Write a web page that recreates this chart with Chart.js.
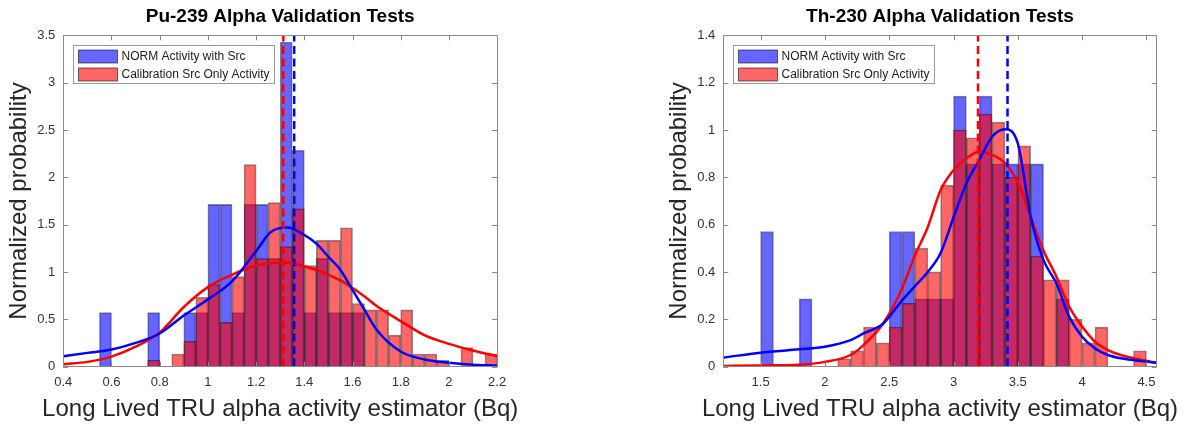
<!DOCTYPE html>
<html>
<head>
<meta charset="utf-8">
<script src="https://cdn.jsdelivr.net/npm/chart.js@4.4.1/dist/chart.umd.min.js"></script>
<style>
  html, body { margin: 0; padding: 0; background: #fff; overflow: hidden; }
  canvas { position: absolute; top: 0; }
  #chart-pu { left: 0; }
  #chart-th { left: 660px; }
</style>
</head>
<body>
<canvas id="chart-pu" width="593" height="425"></canvas>
<canvas id="chart-th" width="527" height="425"></canvas>
<script>
var FONT = "'Liberation Sans', Arial, Helvetica, sans-serif";

var xTitle = "Long Lived TRU alpha activity estimator (Bq)";
var yTitle = "Normalized probability";
var seriesNames = ["NORM Activity with Src", "Calibration Src Only Activity"];

// ---- Pu-239 ----
var puTitle = "Pu-239 Alpha Validation Tests";
var puBins = [0.575, 0.625, 0.675, 0.725, 0.775, 0.825, 0.875, 0.925, 0.975, 1.025, 1.075,
  1.125, 1.175, 1.225, 1.275, 1.325, 1.375, 1.425, 1.475, 1.525, 1.575, 1.625,
  1.675, 1.725, 1.775, 1.825, 1.875, 1.925, 1.975, 2.025, 2.075, 2.125, 2.175];
var puNorm = [0.571, 0, 0, 0, 0.571, 0, 0, 0.571, 0.571, 1.714, 1.714,
  0.571, 1.714, 1.714, 1.143, 3.429, 2.286, 0.571, 1.143, 0.571, 0.571, 0.571,
  0, 0, 0, 0, 0, 0, 0, 0, 0, 0, 0];
var puCal = [0, 0, 0, 0, 0.067, 0, 0.133, 0.267, 0.733, 0.867, 0.467,
  0.95, 2.133, 1.14, 1.733, 1.267, 1.667, 1.067, 1.333, 1.333, 1.467, 0.667,
  0.6, 0.6, 0.333, 0.6, 0.133, 0.133, 0.067, 0, 0.2, 0, 0.133];
var puFitX = [0.4, 0.5, 0.6, 0.7, 0.8, 0.9, 1.0, 1.1, 1.2, 1.26, 1.33, 1.4, 1.45, 1.5,
  1.55, 1.6, 1.65, 1.7, 1.8, 1.9, 2.0, 2.1, 2.2];
var puFitNorm = [0.11, 0.145, 0.18, 0.25, 0.35, 0.54, 0.71, 0.9, 1.22, 1.42, 1.47, 1.39, 1.30, 1.16,
  1.02, 0.81, 0.6, 0.39, 0.16, 0.075, 0.04, 0.02, 0.01];
var puFitCal = [0.025, 0.05, 0.105, 0.21, 0.36, 0.63, 0.84, 0.97, 1.07, 1.09, 1.10, 1.06, 1.02, 0.97,
  0.91, 0.83, 0.74, 0.64, 0.48, 0.33, 0.24, 0.17, 0.11];
var puMeans = [1.358, 1.313];
var puXTicks = [0.4, 0.6, 0.8, 1, 1.2, 1.4, 1.6, 1.8, 2, 2.2];
var puYTicks = [0, 0.5, 1, 1.5, 2, 2.5, 3, 3.5];
var puXRange = [0.4, 2.2];

// ---- Th-230 ----
var thTitle = "Th-230 Alpha Validation Tests";
var thBins = [1.55, 1.65, 1.75, 1.85, 1.95, 2.05, 2.15, 2.25, 2.35, 2.45, 2.55, 2.65, 2.75, 2.85,
  2.95, 3.05, 3.15, 3.25, 3.35, 3.45, 3.55, 3.65, 3.75, 3.85, 3.95, 4.05, 4.15, 4.25, 4.35, 4.45];
var thNorm = [0.571, 0, 0, 0.286, 0, 0, 0, 0, 0, 0, 0.571, 0.571, 0.286, 0.286,
  0.286, 1.143, 0.857, 1.143, 0.857, 0.857, 0.857, 0.857, 0, 0.286, 0, 0, 0, 0, 0, 0];
var thCal = [0, 0, 0, 0, 0, 0, 0.033, 0.067, 0.167, 0.1, 0.167, 0.267, 0.5, 0.4,
  0.767, 1.0, 0.967, 1.067, 1.033, 0.8, 0.933, 0.467, 0.367, 0.367, 0.2, 0.1, 0.167, 0, 0, 0.067];
var thFitX = [1.21, 1.5, 1.8, 2.0, 2.2, 2.3, 2.45, 2.6, 2.7, 2.8, 2.9, 3.0, 3.1, 3.2, 3.3, 3.4,
  3.5, 3.6, 3.7, 3.8, 3.9, 4.0, 4.1, 4.2, 4.3, 4.5, 4.58];
var thFitNorm = [0.038, 0.059, 0.073, 0.084, 0.112, 0.14, 0.18, 0.28, 0.34, 0.40, 0.48, 0.63, 0.774,
  0.873, 0.971, 1.003, 0.943, 0.633, 0.45, 0.352, 0.21, 0.126, 0.077, 0.049, 0.035, 0.021, 0.016];
var thFitCal = [0.003, 0.005, 0.008, 0.02, 0.049, 0.091, 0.18, 0.33, 0.47, 0.59, 0.746, 0.83, 0.88,
  0.908, 0.894, 0.86, 0.78, 0.633, 0.49, 0.38, 0.253, 0.169, 0.105, 0.07, 0.049, 0.025, 0.016];
var thMeans = [3.42, 3.19];
var thXTicks = [1.5, 2, 2.5, 3, 3.5, 4, 4.5];
var thYTicks = [0, 0.2, 0.4, 0.6, 0.8, 1, 1.2, 1.4];
var thXRange = [1.21, 4.58];

var BLUE_FILL = "rgba(0, 0, 255, 0.6)";
var RED_FILL = "rgba(255, 0, 0, 0.6)";
var EDGE = "rgba(0, 0, 0, 0.45)";

function histData(bins, vals) {
  return bins.map(function (b, i) { return { x: b, y: vals[i] > 0 ? vals[i] : null }; });
}
function curveData(xs, ys) {
  return xs.map(function (x, i) { return { x: x, y: ys[i] }; });
}

// matlab style box, inward ticks on all four sides, legend inside the axes, x label
var matlabAxes = {
  id: "matlabAxes",
  afterDatasetsDraw: function (chart, args, opts) {
    var ctx = chart.ctx, a = chart.chartArea;
    var xs = chart.scales.x, ys = chart.scales.y;
    ctx.save();
    ctx.strokeStyle = "#8a8a8a";
    ctx.lineWidth = 1;
    ctx.beginPath();
    xs.ticks.forEach(function (t) {
      var px = Math.round(xs.getPixelForValue(t.value)) + 0.5;
      ctx.moveTo(px, a.bottom); ctx.lineTo(px, a.bottom - 5);
      ctx.moveTo(px, a.top); ctx.lineTo(px, a.top + 5);
    });
    ys.ticks.forEach(function (t) {
      var py = Math.round(ys.getPixelForValue(t.value)) + 0.5;
      ctx.moveTo(a.left, py); ctx.lineTo(a.left + 5, py);
      ctx.moveTo(a.right, py); ctx.lineTo(a.right - 5, py);
    });
    ctx.stroke();
    ctx.strokeRect(Math.round(a.left) + 0.5, Math.round(a.top) + 0.5,
      Math.round(a.right - a.left), Math.round(a.bottom - a.top));

    // x axis label (drawn here so it is not squeezed to the axis width)
    ctx.font = "24px " + FONT;
    ctx.fillStyle = "#262626";
    ctx.textAlign = "center";
    ctx.textBaseline = "middle";
    ctx.fillText(opts.xLabel, (a.left + a.right) / 2, xs.bottom - 15.5);

    // legend
    var bars = chart.data.datasets.filter(function (d) { return d.type === "bar"; });
    ctx.font = "12px " + FONT;
    var tw = 0;
    bars.forEach(function (d) { tw = Math.max(tw, ctx.measureText(d.label).width); });
    var bx = Math.round(a.left + 10) + 0.5, by = Math.round(a.top + 10) + 0.5;
    var w = Math.round(48 + tw + 5), h = 38;
    ctx.fillStyle = "#fff";
    ctx.fillRect(bx, by, w, h);
    ctx.strokeStyle = "#9a9a9a";
    ctx.strokeRect(bx, by, w, h);
    bars.forEach(function (d, i) {
      var sy = Math.round(by + 4 + i * 18.5);
      ctx.fillStyle = d.backgroundColor;
      ctx.fillRect(bx + 5, sy, 39, 13);
      ctx.strokeStyle = "rgba(0,0,0,0.55)";
      ctx.strokeRect(bx + 5, sy, 39, 13);
      ctx.fillStyle = "#1a1a1a";
      ctx.textBaseline = "middle";
      ctx.textAlign = "left";
      ctx.fillText(d.label, bx + 48, sy + 7);
    });
    ctx.restore();
  }
};

function drawPanel(canvasId, p) {
  var ctx = document.getElementById(canvasId).getContext("2d");
  var yMax = p.yTicks[p.yTicks.length - 1];
  return new Chart(ctx, {
    type: "bar",
    data: {
      datasets: [
        {
          type: "bar", label: seriesNames[0], data: histData(p.bins, p.norm),
          backgroundColor: BLUE_FILL, borderColor: EDGE, borderWidth: 1,
          barPercentage: 1, categoryPercentage: 1, grouped: false, order: 3
        },
        {
          type: "bar", label: seriesNames[1], data: histData(p.bins, p.cal),
          backgroundColor: RED_FILL, borderColor: EDGE, borderWidth: 1,
          barPercentage: 1, categoryPercentage: 1, grouped: false, order: 2
        },
        {
          type: "line", label: "NORM fit", data: curveData(p.fitX, p.fitNorm),
          borderColor: "#0000ff", borderWidth: 2.5, pointRadius: 0, fill: false,
          cubicInterpolationMode: "monotone", order: 1
        },
        {
          type: "line", label: "Calibration fit", data: curveData(p.fitX, p.fitCal),
          borderColor: "#ff0000", borderWidth: 2.5, pointRadius: 0, fill: false,
          cubicInterpolationMode: "monotone", order: 1
        },
        {
          type: "line", label: "NORM mean",
          data: [{ x: p.means[0], y: 0 }, { x: p.means[0], y: yMax }],
          borderColor: "#0000ff", borderWidth: 2.5, borderDash: [8, 4.5], pointRadius: 0, order: 0
        },
        {
          type: "line", label: "Calibration mean",
          data: [{ x: p.means[1], y: 0 }, { x: p.means[1], y: yMax }],
          borderColor: "#ff0000", borderWidth: 2.5, borderDash: [8, 4.5], pointRadius: 0, order: 0
        }
      ]
    },
    options: {
      responsive: false,
      devicePixelRatio: 1,
      animation: false,
      layout: { padding: { left: 0, right: p.padRight, top: 0, bottom: 0 } },
      plugins: {
        legend: { display: false },
        tooltip: { enabled: false },
        matlabAxes: { xLabel: xTitle },
        title: {
          display: true,
          text: p.title,
          fullSize: false,
          color: "#000",
          font: { family: FONT, size: 19, weight: "bold", lineHeight: 1.2 },
          padding: { top: 5.5, bottom: 7 }
        }
      },
      scales: {
        x: {
          type: "linear",
          min: p.xRange[0],
          max: p.xRange[1],
          offset: false,
          grid: { display: false, offset: false, drawTicks: false },
          border: { display: false },
          afterBuildTicks: function (s) { s.ticks = p.xTicks.map(function (v) { return { value: v }; }); },
          afterFit: function (s) { s.height = 58.4; },
          ticks: {
            autoSkip: false, maxRotation: 0, padding: 8, color: "#333",
            font: { family: FONT, size: 13 },
            callback: function (v) { return String(v); }
          },
          title: { display: false }
        },
        y: {
          min: 0,
          max: yMax,
          grid: { display: false, drawTicks: false },
          border: { display: false },
          afterBuildTicks: function (s) { s.ticks = p.yTicks.map(function (v) { return { value: v }; }); },
          afterFit: function (s) { s.width = 63.3; },
          ticks: {
            autoSkip: false, padding: 8, color: "#333",
            font: { family: FONT, size: 13 },
            callback: function (v) { return String(v); }
          },
          title: {
            display: true, text: yTitle, color: "#262626",
            font: { family: FONT, size: 24 },
            padding: { top: 5, bottom: 0 }
          }
        }
      }
    },
    plugins: [matlabAxes]
  });
}

drawPanel("chart-pu", {
  title: puTitle, bins: puBins, norm: puNorm, cal: puCal,
  fitX: puFitX, fitNorm: puFitNorm, fitCal: puFitCal, means: puMeans,
  xTicks: puXTicks, yTicks: puYTicks, xRange: puXRange, padRight: 95.9
});
drawPanel("chart-th", {
  title: thTitle, bins: thBins, norm: thNorm, cal: thCal,
  fitX: thFitX, fitNorm: thFitNorm, fitCal: thFitCal, means: thMeans,
  xTicks: thXTicks, yTicks: thYTicks, xRange: thXRange, padRight: 30.3
});
</script>
</body>
</html>
